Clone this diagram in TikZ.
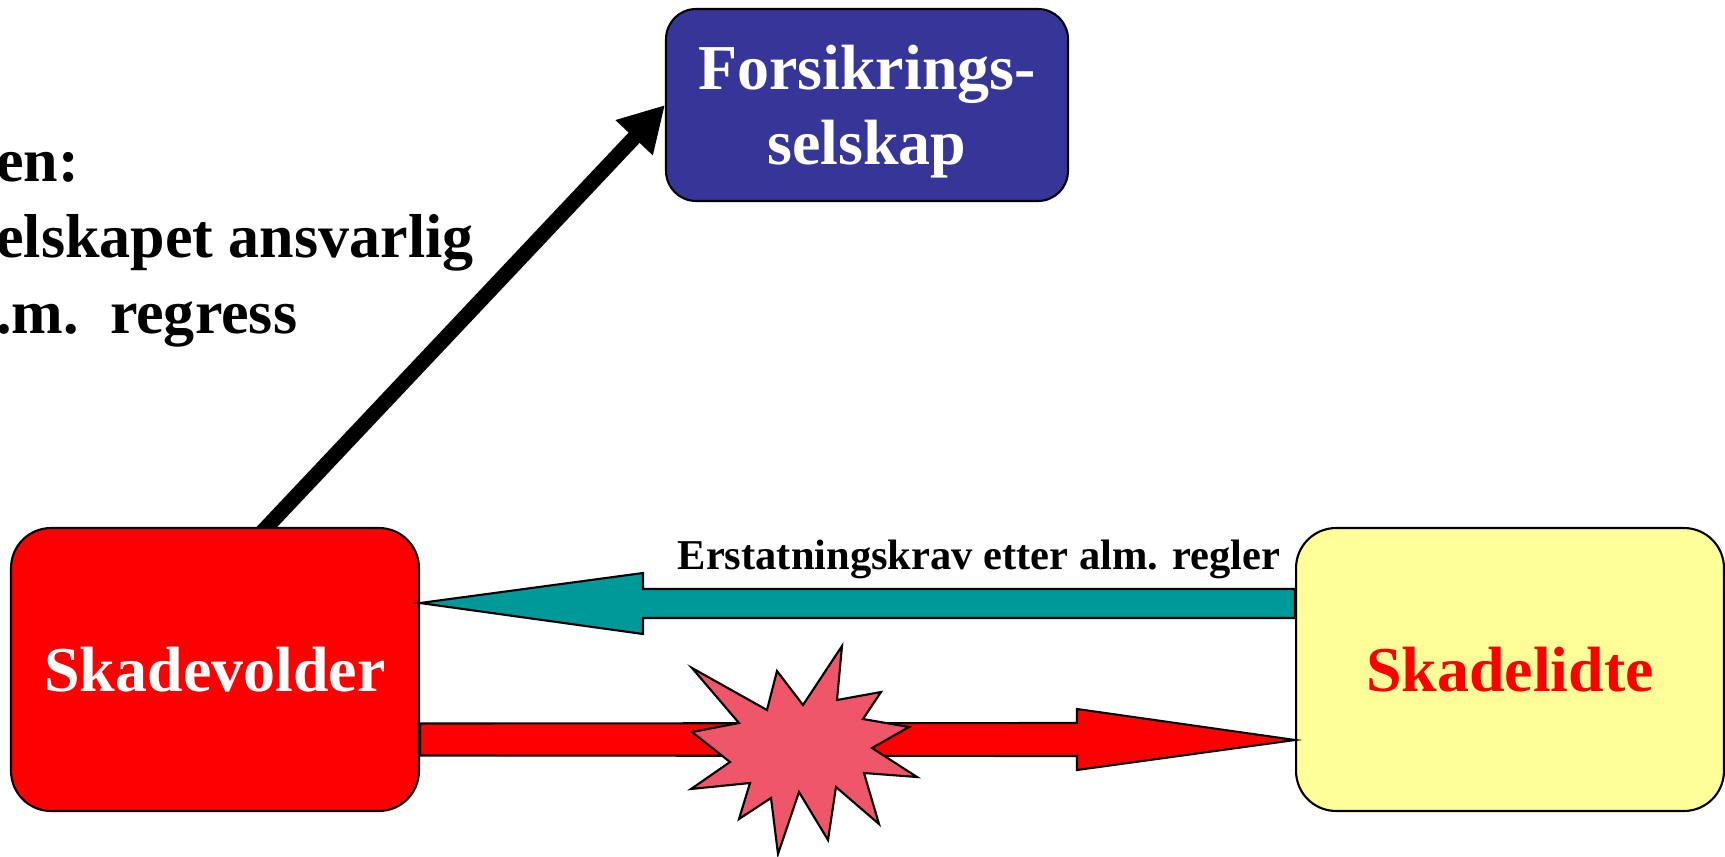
\documentclass[tikz,border=0pt]{standalone}
\usepackage{fontspec}
\setmainfont{Liberation Serif}
\usetikzlibrary{arrows.meta,backgrounds}

\definecolor{boxblue}{RGB}{54,54,153}
\definecolor{claimteal}{RGB}{0,153,153}
\definecolor{lightyellow}{RGB}{255,255,153}
\definecolor{blastred}{RGB}{240,86,106}

\begin{document}
\begin{tikzpicture}[x=0.02cm,y=-0.02cm,font=\bfseries,party/.style={draw=black,line width=1.2pt,rounded corners=0.8cm,inner sep=0pt,minimum width=8.16cm,minimum height=5.66cm,font=\fontsize{36.4}{42.7}\selectfont\bfseries}]
\tikzstyle{block arrow} = [draw=black,line width=1.2pt,line join=miter]
\tikzstyle{big text} = [font=\fontsize{35.3}{43.2}\selectfont\bfseries,inner sep=0pt]

\useasboundingbox (0,0) rectangle (1725,856);

\node[party,fill=boxblue,text=white,rounded corners=0.6cm,minimum width=8.04cm,minimum height=3.84cm,align=center,text depth=0pt] (insurer) at (867,105) {Forsikrings-\\selskap};
\node[party,fill=red,text=white] (tortfeasor) at (215,669.5) {Skadevolder};
\node[party,fill=lightyellow,text=red,minimum width=8.56cm] (victim) at (1510,669.5) {Skadelidte};

\node[big text,anchor=base west,align=left] (note) at (-4,333) {en:\\elskapet ansvarlig\\.m.\ \ regress};

% regress
\begin{scope}[on background layer]
\draw[line width=0.3cm,shorten <=-0.3cm,-{Triangle[length=0.9cm,width=0.96cm]}] (tortfeasor.70) -- (insurer.west);
\end{scope}

% claim
\draw[block arrow,fill=claimteal] ([yshift=1.61cm]victim.west) -- (643,589) -- (643,573) -- ([yshift=1.33cm]tortfeasor.east) -- (643,634) -- (643,618) -- ([yshift=1.03cm]victim.west) -- cycle;
\node[font=\fontsize{24.2}{28}\selectfont\bfseries,anchor=base] (claimlabel) at (979,569) {Erstatningskrav etter alm. regler};

% damage
\draw[block arrow,fill=red] ([yshift=-1.08cm]tortfeasor.east) -- (1077,723) -- (1077,709) -- ([yshift=-1.41cm]victim.west) -- (1077,770) -- (1077,756) -- ([yshift=-1.72cm]tortfeasor.east) -- cycle;
\filldraw[block arrow,fill=blastred] (692,668) -- (767,710) -- (777,671) -- (803,705) -- (842,646) -- (837,700) -- (881,692) -- (863,719) -- (909,727) -- (872,748) -- (917,777) -- (864,773) -- (879,824) -- (836,787) -- (828,840) -- (799,792) -- (778,854) -- (771,798) -- (739,819) -- (750,783) -- (691,789) -- (730,762) -- (692,732) -- (739,723) -- cycle;
\end{tikzpicture}
\end{document}
